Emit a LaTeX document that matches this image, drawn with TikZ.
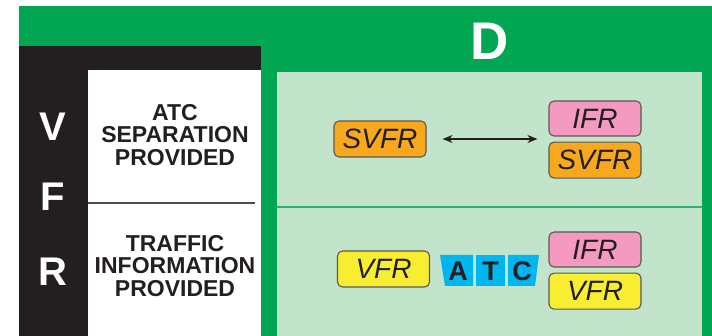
\documentclass[tikz,border=0pt]{standalone}
\usepackage{fontspec}
\setmainfont{Liberation Sans}
\usetikzlibrary{arrows.meta, positioning}

\definecolor{zonegreen}{HTML}{00A651}
\definecolor{palegreen}{HTML}{C2E4CA}
\definecolor{linegreen}{HTML}{2DB36B}
\definecolor{ink}{HTML}{231F20}
\definecolor{svfrorange}{HTML}{F8A81D}
\definecolor{ifrpink}{HTML}{F49AC1}
\definecolor{vfryellow}{HTML}{F9ED32}
\definecolor{atccyan}{HTML}{00B6F0}

\begin{document}
\begin{tikzpicture}[
    x=1pt, y=-1pt,
    node distance=5pt and 2cm,
    flight/.style={rectangle, rounded corners=5pt, draw=ink!75, line width=1.1pt,
        minimum width=92pt, minimum height=36pt, inner sep=0pt,
        font=\fontsize{28}{28}\selectfont\itshape, text=ink},
    svfr/.style={flight, fill=svfrorange},
    ifr/.style={flight, fill=ifrpink, minimum height=35pt},
    vfr/.style={flight, fill=vfryellow},
    letter/.style={text=white, font=\fontsize{40}{40}\selectfont\bfseries},
    service/.style={align=center, inner sep=0pt, text=ink,
        font=\fontsize{23}{22.5}\selectfont\bfseries},
    atccell/.style={fill=atccyan},
    atcletter/.style={text=ink, inner sep=0pt, font=\fontsize{27}{27}\selectfont\bfseries},
    arrow/.style={{Stealth[length=10pt,width=8pt]}-{Stealth[length=10pt,width=8pt]}, line width=1.3pt, draw=ink}
]
\useasboundingbox (0,0) rectangle (712,336);

% Panels
\fill[white] (0,0) rectangle (712,336);
\fill[zonegreen] (19,6) rectangle (712,336);
\fill[ink] (19,46) rectangle (261,336);
\fill[white] (88,70) rectangle (261,336);
\fill[palegreen] (277,72) rectangle (702,336);
\draw[ink!80, line width=1.3pt] (88,203) -- (255,203);
\draw[linegreen, line width=2.5pt] (277,207) -- (702,207);

% Headings
\node[text=white, font=\fontsize{53}{53}\selectfont\bfseries] (class) at (490,41) {D};
\node[letter] (v) at (53,127) {V};
\node[letter] (f) at (53,197) {F};
\node[letter] (r) at (53,272) {R};
\node[service] (sep) at (175,135) {ATC\\SEPARATION\\PROVIDED};
\node[service] (info) at (175,266) {TRAFFIC\\INFORMATION\\PROVIDED};

% Upper row
\node[svfr] (svfra) at (380,139) {SVFR};
\node[ifr] (ifra) at (595,118.5) {IFR};
\node[svfr, below=of ifra] (svfrb) {SVFR};
\draw[arrow] ([xshift=16pt]svfra.east) -- ([xshift=-11pt]svfra.east -| ifra.west);

% Lower row
\node[vfr] (vfra) at (383.5,269) {VFR};
\fill[atccell] (440,255) -- (473,255) -- (473,286) -- (445,286) -- cycle;
\fill[atccell] (476,255) rectangle (505,286);
\fill[atccell] (508,255) -- (539,255) -- (535,286) -- (508,286) -- cycle;
\node[atcletter] (atca) at (458,271) {A};
\node[atcletter] (atct) at (490.5,271) {T};
\node[atcletter] (atcc) at (522,271) {C};
\node[ifr] (ifrb) at (595,249.5) {IFR};
\node[vfr, below=of ifrb] (vfrb) {VFR};

\end{tikzpicture}
\end{document}
